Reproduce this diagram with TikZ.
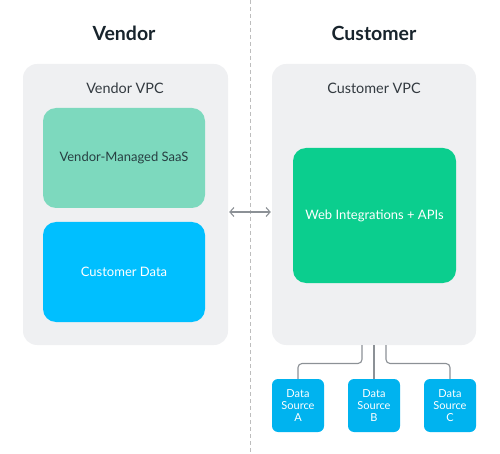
\documentclass[tikz,border=0pt]{standalone}
\usepackage{fontspec}
\setmainfont{Lato}
\usetikzlibrary{positioning,arrows.meta}

\definecolor{vpcgray}{HTML}{EFF0F2}
\definecolor{saasgreen}{HTML}{7DD9BE}
\definecolor{datablue}{HTML}{00BFFF}
\definecolor{webgreen}{HTML}{0BCE8E}
\definecolor{srcblue}{HTML}{00B3EF}
\definecolor{titletext}{HTML}{18242C}
\definecolor{labeltext}{HTML}{333A40}
\definecolor{linegray}{HTML}{8C9196}
\definecolor{dashgray}{HTML}{BDBDBD}

\tikzset{
  title/.style={font=\fontsize{19.5}{22}\selectfont\bfseries, text=titletext},
  vpclabel/.style={font=\fontsize{14.4}{16}\selectfont, text=labeltext},
  vpc/.style={fill=vpcgray, rounded corners=14pt, inner sep=0pt,
    minimum width=205pt, minimum height=281pt},
  service/.style={rounded corners=13pt, inner sep=0pt, minimum width=162pt,
    font=\fontsize{13}{15}\selectfont},
  source/.style={fill=srcblue, rounded corners=6pt, inner sep=0pt,
    minimum width=52pt, minimum height=53pt, text=white, align=center,
    font=\fontsize{11}{11.7}\selectfont},
  wire/.style={linegray, line width=1.1pt, rounded corners=4pt},
}

\begin{document}
\begin{tikzpicture}[x=1pt,y=-1pt]
\useasboundingbox (0,0) rectangle (500,454);

% \draw divider
\draw[dashgray, line width=0.8pt, dash pattern=on 4pt off 3pt] (250,0) -- (250,454);

% \draw titles
\node[title] (vendortitle) at (124,33) {Vendor};
\node[title] (customertitle) at (374,33) {Customer};

% \draw vendor side
\node[vpc] (vendorvpc) at (125.5,204.5) {};
\node[vpclabel] (vendorlabel) at (125,88) {Vendor VPC};
\node[service, fill=saasgreen, minimum height=100pt, text=titletext!85!saasgreen]
  (saas) at (124,158) {Vendor-Managed SaaS};
\node[service, fill=datablue, minimum height=100pt, text=white]
  (custdata) at (124,272) {Customer Data};

% \draw customer side
\node[vpc, minimum width=204pt] (customervpc) at (374,204.5) {};
\node[vpclabel] (customerlabel) at (374,88) {Customer VPC};
\node[service, fill=webgreen, minimum width=163pt, minimum height=135pt, text=white]
  (web) at (374.5,215.5) {Web Integrations + APIs};

% \draw link
\coordinate (link) at (250,212);
\draw[linegray, line width=1.1pt, {Straight Barb[length=4pt,width=9pt]}-{Straight Barb[length=4pt,width=9pt]}]
  ([xshift=1pt]vendorvpc.east |- link) -- ([xshift=-1pt]customervpc.west |- link);

% \draw data sources
\node[source] (srca) at (298,405.5) {Data\\Source\\A};
\node[source] (srcb) at (374,405.5) {Data\\Source\\B};
\node[source] (srcc) at (450,405.5) {Data\\Source\\C};

% \draw wires
\coordinate (tapa) at (362,345);
\coordinate (tapc) at (386,345);
\draw[wire] (tapa) -- (362,363.5) -- (298,363.5) -- (srca.north);
\draw[wire] (customervpc.south) -- (srcb.north);
\draw[wire] (tapc) -- (386,363.5) -- (450,363.5) -- (srcc.north);

\end{tikzpicture}
\end{document}
